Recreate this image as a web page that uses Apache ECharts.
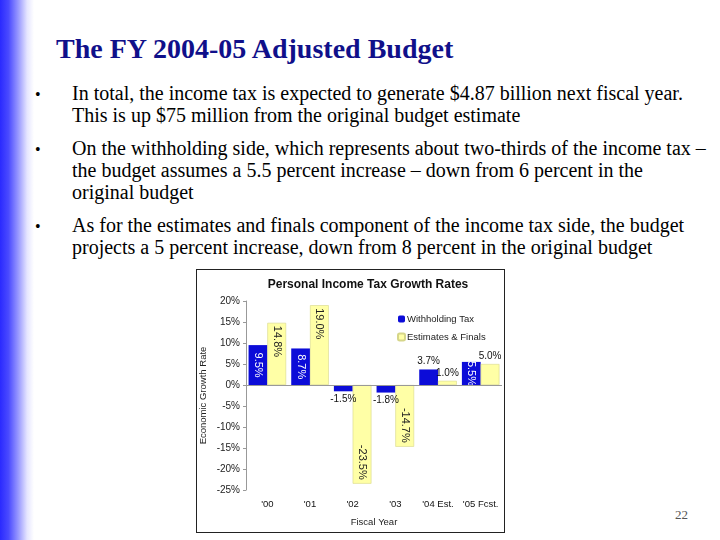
<!DOCTYPE html>
<html>
<head>
<meta charset="utf-8">
<script src="https://cdn.jsdelivr.net/npm/echarts@6/dist/echarts.min.js"></script>
<style>
  html, body { margin:0; padding:0; width:720px; height:540px; background:#fff; overflow:hidden; }
  #stripe { position:absolute; left:0; top:0; width:34px; height:540px;
    background:linear-gradient(to right, #2a2aff 0%, #4a4aff 25%, #9c9cff 55%, #e6e6ff 80%, #ffffff 100%); }
  .t { position:absolute; white-space:nowrap; font-family:"Liberation Serif","Times New Roman",serif; color:#000; }
  #title { left:56px; top:33px; font-size:28px; font-weight:bold; color:#10108a; }
  .b { font-size:20px; line-height:22px; }
  .dot { font-size:16px; line-height:22px; }
  #box { position:absolute; left:196px; top:269px; width:309px; height:264px; border:1px solid #222; box-sizing:border-box; }
  #chart { position:absolute; left:0; top:0; width:720px; height:540px; }
  #pg { left:675px; top:507px; font-size:13px; color:#555; }
</style>
</head>
<body>
<div id="stripe"></div>
<div class="t" id="title">The FY 2004-05 Adjusted Budget</div>
<div class="t dot" style="left:35px;top:84px;">•</div>
<div class="t b" style="left:72px;top:82px;">In total, the income tax is expected to generate $4.87 billion next fiscal year.<br>This is up $75 million from the original budget estimate</div>
<div class="t dot" style="left:35px;top:139px;">•</div>
<div class="t b" style="left:72px;top:137px;">On the withholding side, which represents about two-thirds of the income tax –<br>the budget assumes a 5.5 percent increase – down from 6 percent in the<br>original budget</div>
<div class="t dot" style="left:35px;top:216px;">•</div>
<div class="t b" style="left:72px;top:214px;">As for the estimates and finals component of the income tax side, the budget<br>projects a 5 percent increase, down from 8 percent in the original budget</div>
<div id="box"></div>
<div class="t" id="pg">22</div>
<div id="chart"></div>
<script>
// ---- data ----
var categories = ["'00", "'01", "'02", "'03", "'04 Est.", "'05 Fcst."];
var withholding = [9.5, 8.7, -1.5, -1.8, 3.7, 5.5];
var estimates = [14.8, 19.0, -23.5, -14.7, 1.0, 5.0];
var seriesNames = ['Withholding Tax', 'Estimates & Finals'];
var yMin = -25, yMax = 20, yStep = 5;

// ---- label placement (style) ----
var whPlace = ['mid', 'mid', 'below', 'below', 'above', 'mid'];
var esPlace = ['top', 'top', 'bottom', 'bottom', 'above', 'above'];

var FONT = '"Liberation Sans", Arial, sans-serif';
function fmt(v) { return v.toFixed(1) + '%'; }
function labelFor(place, inColor) {
  var base = { show: true, fontFamily: FONT, fontSize: 10, formatter: function (p) { return fmt(p.value); } };
  if (place === 'mid') return Object.assign(base, { position: 'inside', rotate: -90, fontSize: 11, color: inColor });
  if (place === 'top') return Object.assign(base, { position: 'insideTop', rotate: -90, fontSize: 11, align: 'left', verticalAlign: 'middle', distance: 3, color: inColor });
  if (place === 'bottom') return Object.assign(base, { position: 'insideBottom', rotate: -90, fontSize: 11, align: 'right', verticalAlign: 'middle', distance: 4, color: inColor });
  if (place === 'above') return Object.assign(base, { position: 'top', distance: 3, color: '#111' });
  return Object.assign(base, { position: 'bottom', distance: 3, color: '#111' });
}
function build(vals, places, inColor) {
  return vals.map(function (v, i) { return { value: v, label: labelFor(places[i], inColor) }; });
}

var chart = echarts.init(document.getElementById('chart'), null, { renderer: 'canvas' });
chart.setOption({
  backgroundColor: 'transparent',
  animation: false,
  title: {
    text: 'Personal Income Tax Growth Rates', left: 363, top: 274, textAlign: 'center',
    textStyle: { fontFamily: FONT, fontSize: 12, fontWeight: 'bold', color: '#111' }
  },
  legend: {
    orient: 'vertical', left: 392, top: 309, itemWidth: 7, itemHeight: 7, itemGap: 8,
    textStyle: { fontFamily: FONT, fontSize: 9.5, color: '#222', padding: [0, 0, 0, -3] },
    data: seriesNames
  },
  grid: { left: 246, right: 218, top: 301, bottom: 50, containLabel: false },
  xAxis: {
    type: 'category', data: categories,
    name: 'Fiscal Year', nameLocation: 'middle', nameGap: 27,
    nameTextStyle: { fontFamily: FONT, fontSize: 9.5, color: '#222' },
    axisLine: { show: false, onZero: false }, axisTick: { show: false },
    axisLabel: { interval: 0, fontFamily: FONT, fontSize: 9.5, color: '#111', margin: 9 }
  },
  yAxis: {
    type: 'value', min: yMin, max: yMax, interval: yStep,
    name: 'Economic Growth Rate', nameLocation: 'middle', nameGap: 38, nameRotate: 90,
    nameTextStyle: { fontFamily: FONT, fontSize: 9.5, color: '#222' },
    axisLine: { show: true, lineStyle: { color: '#999' } },
    axisTick: { show: true, length: 3, lineStyle: { color: '#999' } },
    splitLine: { show: false },
    axisLabel: { fontFamily: FONT, fontSize: 10, color: '#222', margin: 6, formatter: function (v) { return v + '%'; } }
  },
  series: [
    {
      name: seriesNames[0], type: 'bar', barGap: '0%', barCategoryGap: '12%',
      itemStyle: { color: '#0c0cd8' },
      data: build(withholding, whPlace, '#ffffff'),
      markLine: {
        silent: true, symbol: 'none', label: { show: false },
        lineStyle: { color: '#999', type: 'solid', width: 1 },
        data: [{ yAxis: 0 }]
      }
    },
    {
      name: seriesNames[1], type: 'bar', barGap: '0%', barCategoryGap: '12%',
      itemStyle: { color: '#ffffa6', borderColor: '#d6d68a', borderWidth: 0.6 },
      data: build(estimates, esPlace, '#222')
    }
  ]
});
</script>
</body>
</html>
